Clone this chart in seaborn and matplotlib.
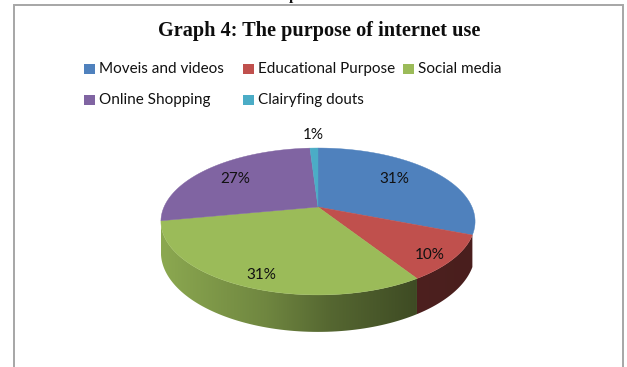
import numpy as np
import matplotlib
matplotlib.use("Agg")
import matplotlib.pyplot as plt
from matplotlib.patches import Polygon, Rectangle
import seaborn as sns

# Survey results
categories = ["Moveis and videos", "Educational Purpose", "Social media",
              "Online Shopping", "Clairyfing douts"]
shares = [31, 10, 31, 27, 1]
slice_colors = ["#4f81bd", "#c0504d", "#9bbb59", "#8064a2", "#4bacc6"]
title = "Graph 4: The purpose of internet use"

# Only the slices on the near side show a wall
wall_visible = [False, True, True, False, False]

# Label placement in disc terms: radius fraction and turn from the slice middle
label_radius = [0.69, 0.875, 0.87, 0.72, 1.28]
label_turn = [-5, 3.5, -2.5, -1.5, 0]

# Legend grid in figure pixels (swatch left edge and row centre per entry)
legend_x = [84, 243, 403, 84, 243]
legend_y = [69, 69, 69, 100, 100]

# Tilted-disc projection, in figure pixels
CX, CY = 318.0, 207.0
RX, RY, PERSP, DEPTH = 154.0, 70.6, 0.197, 29.7

sns.set_theme(style="white")
plt.rcParams["font.family"] = ["Lato", "DejaVu Sans"]
palette = sns.color_palette(slice_colors)


def project(theta_deg, r=1.0):
    """Map a clockwise-from-top disc angle to pixel coordinates on the top face."""
    t = np.radians(theta_deg)
    u, v = r * np.sin(t), r * np.cos(t)
    w = 1 + PERSP * v
    return CX + RX * u / w, CY - RY * v / w


def wall_offset(theta_deg):
    return DEPTH / (1 + PERSP * np.cos(np.radians(theta_deg)))


def wall_shade(x):
    """Brightness of the side wall, falling from left to right."""
    return np.interp(x, [161, 265, 330, 417, 475], [0.90, 0.72, 0.55, 0.40, 0.38])


fig = plt.figure(figsize=(6.27, 3.67), dpi=100)
ax = fig.add_axes([0, 0, 1, 1])
ax.axis("off")

edges = np.concatenate([[0], np.cumsum(shares)]) / sum(shares) * 360.0

# Side wall first, as a horizontal gradient clipped to each slice's outline
for i, color in enumerate(palette):
    if not wall_visible[i]:
        continue
    angles = np.linspace(edges[i], edges[i + 1], 80)
    xs, ys = project(angles)
    lower = ys + wall_offset(angles)
    outline = np.column_stack([np.r_[xs, xs[::-1]], np.r_[ys, lower[::-1]]])
    x_min, x_max = outline[:, 0].min(), outline[:, 0].max()
    y_min, y_max = outline[:, 1].min(), outline[:, 1].max()
    columns = np.linspace(x_min, x_max, 256)
    ramp = wall_shade(columns)[None, :, None] * np.array(color)[None, None, :]
    image = ax.imshow(ramp, extent=(x_min, x_max, y_max, y_min), aspect="auto",
                      interpolation="bilinear", zorder=1)
    image.set_clip_path(Polygon(outline, closed=True, transform=ax.transData))

ax.set_xlim(0, 627)
ax.set_ylim(367, 0)

# Top face
for i, color in enumerate(palette):
    angles = np.linspace(edges[i], edges[i + 1], 60)
    xs, ys = project(angles)
    verts = np.column_stack([np.r_[CX, xs], np.r_[CY, ys]])
    ax.add_patch(Polygon(verts, closed=True, facecolor=color, edgecolor=color,
                         lw=0.3, zorder=2))

# Percentage labels
for i, share in enumerate(shares):
    mid = (edges[i] + edges[i + 1]) / 2 + label_turn[i]
    x, y = project(mid, label_radius[i])
    ax.text(x, y, f"{share}%", ha="center", va="center", fontsize=11,
            color="#111111", zorder=3)

# Outer frame, open at the bottom
ax.plot([13.5, 13.5, 623, 623], [367, 5, 5, 367], color="#a6a6a6", lw=1.4,
        solid_joinstyle="miter", clip_on=False)

# Descender of the text line running above the frame
ax.text(293, 0, "p", family="Liberation Serif", weight="bold", fontsize=11,
        ha="center", va="baseline", color="#111111")

ax.text(319.5, 31, title, family="Liberation Serif", weight="bold", fontsize=14.6,
        ha="center", va="center", color="#0d0d0d")

# Legend entries
for i, name in enumerate(categories):
    ax.add_patch(Rectangle((legend_x[i], legend_y[i] - 5), 11, 10,
                           facecolor=palette[i], edgecolor="none"))
    ax.text(legend_x[i] + 15, legend_y[i], name, ha="left", va="center",
            fontsize=11, color="#111111")

fig.savefig("out.png", dpi=100)
